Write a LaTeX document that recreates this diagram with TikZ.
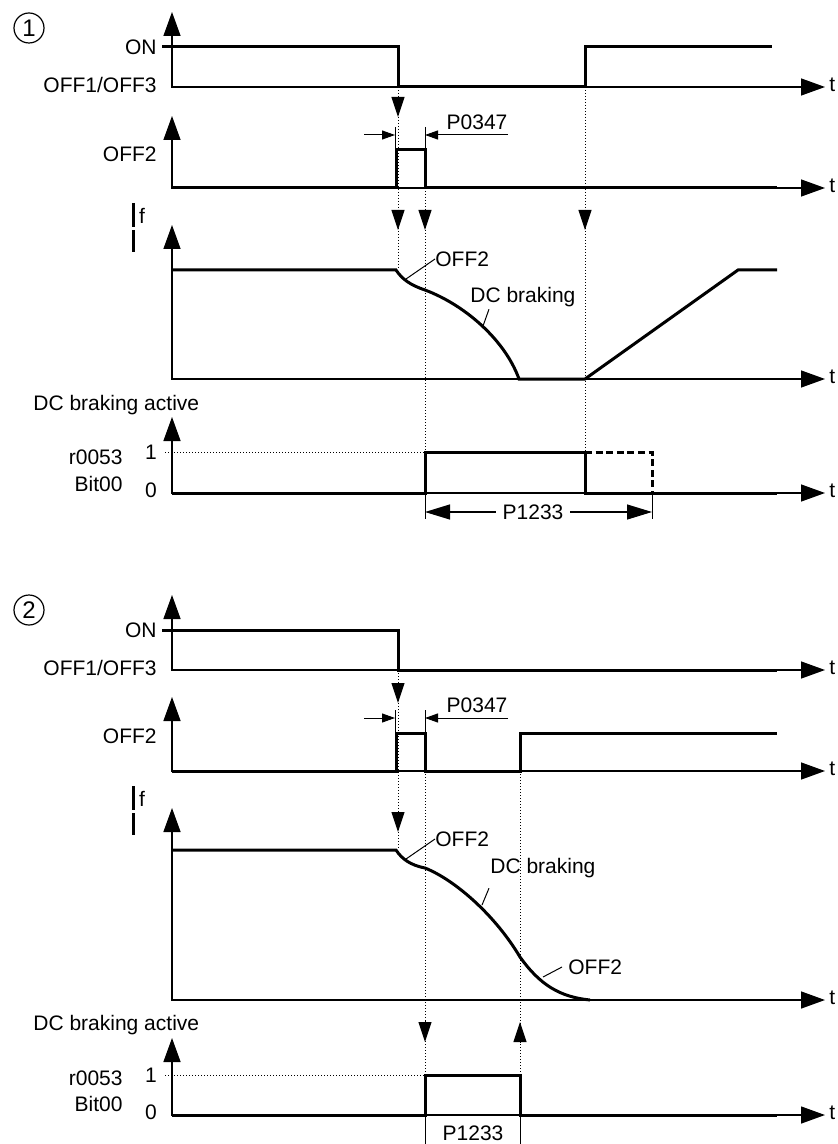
\documentclass[tikz,border=0pt]{standalone}
\usepackage{fontspec}
\setmainfont{Liberation Sans}
\usepackage{tikz}
\usetikzlibrary{arrows.meta,positioning,calc}

\begin{document}
\begin{tikzpicture}[x=0.5pt, y=-0.5pt,
    font=\fontsize{10.5}{12.6}\selectfont,
    axis/.style={line width=0.7pt, {Triangle[length=12pt,width=8.5pt]}-{Triangle[length=12pt,width=8.5pt]}},
    sig/.style={line width=1.5pt},
    guide/.style={line width=0.5pt, densely dotted},
    drop/.style={line width=0.5pt, -{Triangle[length=10pt,width=6.5pt]}},
    dim/.style={line width=0.5pt, -{Triangle[length=6.5pt,width=4.5pt]}},
    span/.style={line width=0.6pt, -{Triangle[length=12.5pt,width=7.5pt]}},
    lead/.style={line width=0.5pt},
    lbl/.style={anchor=east, inner sep=0pt},
    tlbl/.style={anchor=west, inner sep=0pt},
    badge/.style={draw, circle, line width=0.6pt, minimum size=15pt, inner sep=0pt,
        font=\fontsize{12}{14}\selectfont}]
    \useasboundingbox (0,0) rectangle (838,1144);

    %%%%%%%%%% case 1 %%%%%%%%%%
    \node[badge] (case1) at (29,28) {1};

    % ON / OFF1/OFF3
    \draw[axis] (172,12) -- (172,87) -- (825,87);
    \draw[sig] (162,47) -- (398,47) -- (398,87) -- (585,87) -- (585,47) -- (772,47);
    \node[lbl] (on1) at (157,47) {ON};
    \node[lbl] (off1a) at (157,85) {OFF1/OFF3};
    \node[tlbl] (t1a) at (829,85) {t};

    % OFF2
    \draw[axis] (172,116) -- (172,188) -- (825,188);
    \draw[sig] (172,188) -- (396,188) -- (396,150) -- (425,150) -- (425,188) -- (777,188);
    \node[lbl] (off2a) at (157,154) {OFF2};
    \node[tlbl] (t1b) at (829,186) {t};
    \draw[lead] (395,127) -- (395,150);
    \draw[lead] (425,127) -- (425,150);
    \draw[dim] (364,135) -- (395,135);
    \draw[dim] (508,135) -- (425,135);
    \node (p0347a) at (477,122) {P0347};

    % frequency
    \draw[axis] (172,225) -- (172,379) -- (825,379);
    \draw[line width=1.5pt] (133,203) -- (133,227) (133,230) -- (133,252);
    \node (f1) at (142,216) {f};
    \draw[sig] (172,270) -- (396,270) .. controls (402,279) and (410,285) .. (425,290)
        .. controls (465,305) and (505,340) .. (519,379) -- (585,379) -- (738,270) -- (777,270);
    \node[tlbl] (t1c) at (829,377) {t};
    \node[anchor=west, inner sep=0pt] (coast1) at (435,259) {OFF2};
    \draw[lead] (coast1.west) -- (406,279);
    \node[anchor=west, inner sep=0pt] (dcb1) at (470,297) {DC braking};
    \draw[lead] ($(dcb1.south west)+(19,2)$) -- (483,326);

    % DC braking active
    \node[anchor=west, inner sep=0pt] (act1) at (33,405) {DC braking active};
    \draw[guide] (165,452) -- (425,452);
    \draw[axis] (172,417) -- (172,493) -- (825,493);
    \draw[sig] (172,493) -- (425,493) -- (425,452) -- (585,452) -- (585,493) -- (777,493);
    \draw[sig, dash pattern=on 3.5pt off 1.8pt] (585,452) -- (652,452) -- (652,493);
    \node (one1) at (151,452) {1};
    \node (zero1) at (151,490) {0};
    \node[lbl] (r1) at (123,457) {r0053};
    \node[lbl] (bit1) at (123,484) {Bit00};
    \node[tlbl] (t1d) at (829,491) {t};
    \draw[lead] (425,493) -- (425,519);
    \draw[lead] (652,493) -- (652,519);
    \node (p1233a) at (533,512) {P1233};
    \draw[span] (p1233a.west) -- (425,512);
    \draw[span] (p1233a.east) -- (652,512);

    % guide lines
    \draw[guide] (398,87) -- (398,270);
    \draw[guide] (425,188) -- (425,452);
    \draw[guide] (585,87) -- (585,452);
    \draw[drop] (398,97) -- (398,117);
    \foreach \gx in {398,425,585}
        \draw[drop] (\gx,210) -- (\gx,230);

    %%%%%%%%%% case 2 %%%%%%%%%%
    \node[badge] (case2) at (29,610) {2};

    % ON / OFF1/OFF3
    \draw[axis] (172,595) -- (172,670) -- (825,670);
    \draw[sig] (162,630) -- (398,630) -- (398,670) -- (777,670);
    \node[lbl] (on2) at (157,630) {ON};
    \node[lbl] (off2b) at (157,668) {OFF1/OFF3};
    \node[tlbl] (t2a) at (829,668) {t};

    % OFF2
    \draw[axis] (172,697) -- (172,771) -- (825,771);
    \draw[sig] (172,771) -- (396,771) -- (396,733) -- (425,733) -- (425,771) -- (520,771) -- (520,733) -- (777,733);
    \node[lbl] (off2c) at (157,736) {OFF2};
    \node[tlbl] (t2b) at (829,769) {t};
    \draw[lead] (395,710) -- (395,733);
    \draw[lead] (425,710) -- (425,733);
    \draw[dim] (364,718) -- (395,718);
    \draw[dim] (508,718) -- (425,718);
    \node (p0347b) at (477,705) {P0347};

    % frequency
    \draw[axis] (172,808) -- (172,1000) -- (825,1000);
    \draw[line width=1.5pt] (133,786) -- (133,810) (133,813) -- (133,835);
    \node (f2) at (142,799) {f};
    \draw[sig] (172,850) -- (396,850) .. controls (402,859) and (410,865) .. (425,868)
        .. controls (455,880) and (495,915) .. (520,957)
        .. controls (540,985) and (560,997) .. (590,1000);
    \node[tlbl] (t2c) at (829,998) {t};
    \node[anchor=west, inner sep=0pt] (coast2) at (435,839) {OFF2};
    \draw[lead] (coast2.west) -- (406,859);
    \node[anchor=west, inner sep=0pt] (dcb2) at (490,868) {DC braking};
    \draw[lead] ($(dcb2.south west)+(-1,10)$) -- (482,905);
    \node[anchor=west, inner sep=0pt] (coast3) at (568,967) {OFF2};
    \draw[lead] ($(coast3.west)+(-6,0)$) -- (543,977);

    % DC braking active
    \node[anchor=west, inner sep=0pt] (act2) at (33,1025) {DC braking active};
    \draw[guide] (165,1075) -- (425,1075);
    \draw[axis] (172,1038) -- (172,1115) -- (825,1115);
    \draw[sig] (172,1115) -- (425,1115) -- (425,1075) -- (520,1075) -- (520,1115) -- (777,1115);
    \node (one2) at (151,1075) {1};
    \node (zero2) at (151,1112) {0};
    \node[lbl] (r2) at (123,1078) {r0053};
    \node[lbl] (bit2) at (123,1104) {Bit00};
    \node[tlbl] (t2d) at (829,1113) {t};
    \draw[lead] (425,1115) -- (425,1144);
    \draw[lead] (520,1115) -- (520,1144);
    \node (p1233b) at (473,1133) {P1233};

    % guide lines
    \draw[guide] (398,670) -- (398,850);
    \draw[guide] (425,771) -- (425,1075);
    \draw[guide] (520,771) -- (520,1075);
    \draw[drop] (398,682) -- (398,703);
    \draw[drop] (398,812) -- (398,832);
    \draw[drop] (425,1021) -- (425,1042);
    \draw[drop] (520,1043) -- (520,1022);
\end{tikzpicture}
\end{document}
